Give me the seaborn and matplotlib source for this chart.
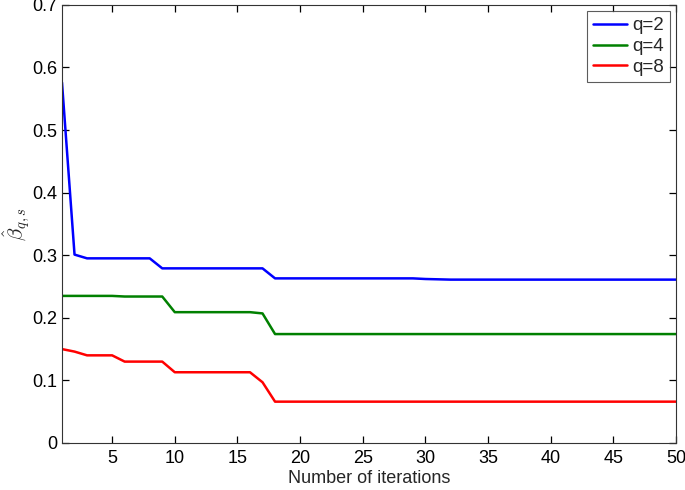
import numpy as np
import pandas as pd
import matplotlib
matplotlib.use("Agg")
import matplotlib.pyplot as plt
import seaborn as sns

iterations = list(range(1, 51))
beta_q2 = [0.576, 0.301, 0.295, 0.295, 0.295, 0.295, 0.295, 0.295, 0.279, 0.279,
           0.279, 0.279, 0.279, 0.279, 0.279, 0.279, 0.279, 0.263, 0.263, 0.263,
           0.263, 0.263, 0.263, 0.263, 0.263, 0.263, 0.263, 0.263, 0.263, 0.262,
           0.2615, 0.261, 0.261, 0.261, 0.261, 0.261, 0.261, 0.261, 0.261, 0.261,
           0.261, 0.261, 0.261, 0.261, 0.261, 0.261, 0.261, 0.261, 0.261, 0.261]
beta_q4 = [0.235, 0.235, 0.235, 0.235, 0.235, 0.234, 0.234, 0.234, 0.234, 0.209,
           0.209, 0.209, 0.209, 0.209, 0.209, 0.209, 0.207, 0.174, 0.174, 0.174,
           0.174, 0.174, 0.174, 0.174, 0.174, 0.174, 0.174, 0.174, 0.174, 0.174,
           0.174, 0.174, 0.174, 0.174, 0.174, 0.174, 0.174, 0.174, 0.174, 0.174,
           0.174, 0.174, 0.174, 0.174, 0.174, 0.174, 0.174, 0.174, 0.174, 0.174]
beta_q8 = [0.150, 0.146, 0.140, 0.140, 0.140, 0.130, 0.130, 0.130, 0.130, 0.113,
           0.113, 0.113, 0.113, 0.113, 0.113, 0.113, 0.097, 0.066, 0.066, 0.066,
           0.066, 0.066, 0.066, 0.066, 0.066, 0.066, 0.066, 0.066, 0.066, 0.066,
           0.066, 0.066, 0.066, 0.066, 0.066, 0.066, 0.066, 0.066, 0.066, 0.066,
           0.066, 0.066, 0.066, 0.066, 0.066, 0.066, 0.066, 0.066, 0.066, 0.066]
series_names = ['q=2', 'q=4', 'q=8']
colors = ['#0000ff', '#008000', '#ff0000']

df = pd.concat([
    pd.DataFrame({'iter': iterations, 'beta': vals, 'q': name})
    for name, vals in zip(series_names, [beta_q2, beta_q4, beta_q8])
])

sns.set_style('white')
plt.rcParams['font.family'] = ['Liberation Sans', 'DejaVu Sans']
plt.rcParams['mathtext.fontset'] = 'cm'

fig = plt.figure(figsize=(6.85, 4.9), dpi=100)
ax = fig.add_axes([0.0905, 0.096, 0.8965, 0.894])
sns.lineplot(data=df, x='iter', y='beta', hue='q', palette=colors,
             linewidth=1.8, ax=ax)

ax.set_xlim(1, 50)
ax.set_ylim(0, 0.7)
ax.set_xticks(range(5, 51, 5))
yt = [0, 0.1, 0.2, 0.3, 0.4, 0.5, 0.6, 0.7]
ax.set_yticks(yt)
ax.set_yticklabels(['0', '0.1', '0.2', '0.3', '0.4', '0.5', '0.6', '0.7'])
ax.tick_params(direction='in', length=5, width=0.9, labelsize=13,
               bottom=True, left=True, top=True, right=True, colors='black')
ax.tick_params(axis='x', pad=5)
for s in ax.spines.values():
    s.set_color('#333333')
    s.set_linewidth(0.8)

ax.set_xlabel('Number of iterations', fontsize=13, labelpad=2)
ax.set_ylabel(r'$\hat{\beta}_{q,s}$', fontsize=15, labelpad=0)

leg = ax.legend(loc='upper right', fontsize=13.5, frameon=True, fancybox=False,
                handlelength=1.8, handletextpad=0.3, borderpad=0.3,
                labelspacing=0.2, borderaxespad=0.35)
leg.get_frame().set_edgecolor('#333333')
leg.get_frame().set_linewidth(0.8)

plt.savefig('out.png', dpi=100)
